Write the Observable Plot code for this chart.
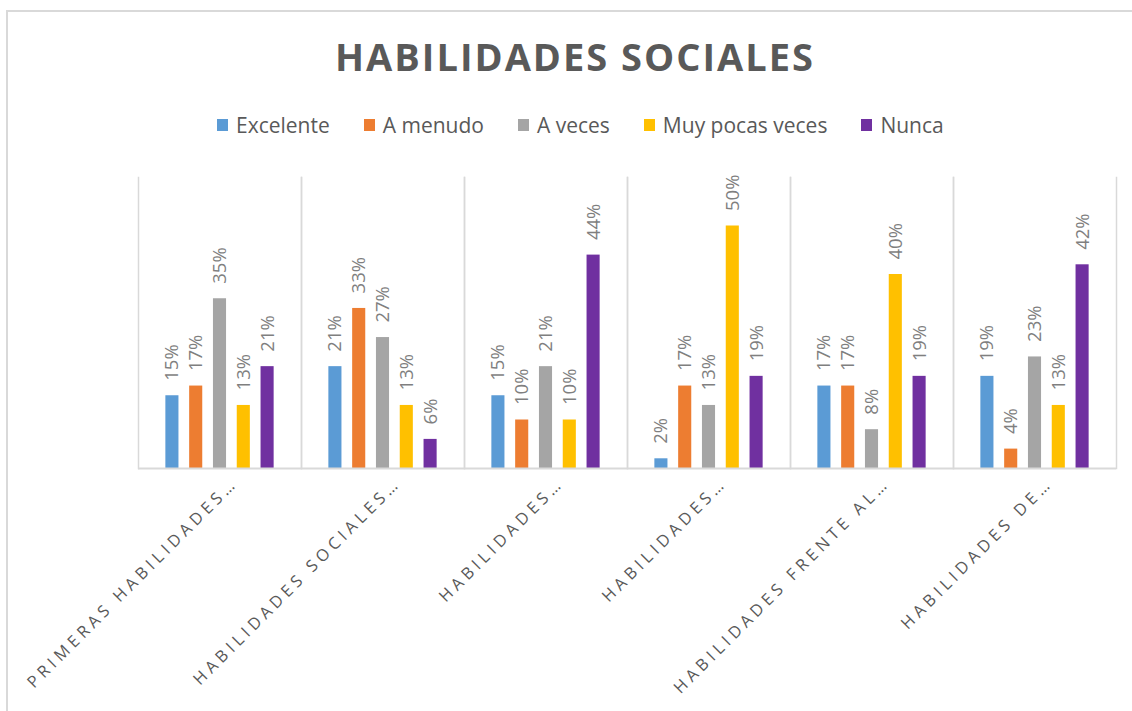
<!DOCTYPE html>
<html>
<head>
<meta charset="utf-8">
<script src="https://cdn.jsdelivr.net/npm/d3@7"></script>
<script src="https://cdn.jsdelivr.net/npm/@observablehq/plot@0.6"></script>
<style>
  html, body { margin: 0; padding: 0; background: #fff; }
  #wrap { position: relative; width: 1132px; height: 711px; overflow: hidden; background: #fff; font-family: "Open Sans", sans-serif; }
  #border { position: absolute; left: 6px; top: 10px; width: 1200px; height: 800px; border-left: 2px solid #d9d9d9; border-top: 2px solid #d9d9d9; box-sizing: border-box; }
  #title { position: absolute; left: 0; top: 37px; width: 1150px; text-align: center; font-size: 38px; line-height: 38px; font-weight: 700; color: #595959; letter-spacing: 2px; }
  #legend { position: absolute; left: 217px; top: 115px; height: 20px; display: flex; align-items: center; font-size: 21px; line-height: 20px; color: #595959; }
  .item { display: flex; align-items: center; margin-right: 34px; }
  .sw { width: 11px; height: 12px; margin-right: 8px; }
  #chart { position: absolute; left: 0; top: 0; }
  #chart svg { background: transparent; }
</style>
</head>
<body>
<div id="wrap">
  <div id="border"></div>
  <div id="chart"></div>
  <div id="title">HABILIDADES SOCIALES</div>
  <div id="legend"></div>
</div>
<script>
const categories = [
  "Primeras habilidades sociales",
  "Habilidades sociales avanzadas",
  "Habilidades relacionadas con los sentimientos",
  "Habilidades alternativas a la agresión",
  "Habilidades frente al estrés",
  "Habilidades de planificación"
];
const tickLabels = [
  "PRIMERAS HABILIDADES…",
  "HABILIDADES SOCIALES…",
  "HABILIDADES…",
  "HABILIDADES…",
  "HABILIDADES FRENTE AL…",
  "HABILIDADES DE…"
];
const series = ["Excelente", "A menudo", "A veces", "Muy pocas veces", "Nunca"];
const excelente = [15, 21, 15, 2, 17, 19];
const aMenudo = [17, 33, 10, 17, 17, 4];
const aVeces = [35, 27, 21, 13, 8, 23];
const muyPocasVeces = [13, 13, 10, 50, 40, 13];
const nunca = [21, 6, 44, 19, 19, 42];
const colors = ["#5B9BD5", "#ED7D31", "#A5A5A5", "#FFC000", "#7030A0"];

const seriesValues = [excelente, aMenudo, aVeces, muyPocasVeces, nunca];
const data = [];
categories.forEach((c, i) => {
  series.forEach((s, j) => {
    data.push({category: c, series: s, value: seriesValues[j][i]});
  });
});

// legend
const legend = document.getElementById("legend");
series.forEach((s, j) => {
  const item = document.createElement("div");
  item.className = "item";
  const sw = document.createElement("div");
  sw.className = "sw";
  sw.style.background = colors[j];
  const t = document.createElement("span");
  t.textContent = s;
  item.appendChild(sw);
  item.appendChild(t);
  legend.appendChild(item);
});

const grid = "#d9d9d9";
const chart = Plot.plot({
  width: 1132,
  height: 711,
  marginTop: 177,
  marginBottom: 243,
  marginLeft: 137,
  marginRight: 16,
  style: {fontFamily: "Open Sans, sans-serif", background: "transparent"},
  fx: {domain: categories, padding: 0, axis: null, label: null},
  x: {domain: series, axis: null, paddingInner: 0.45, paddingOuter: 1.15, round: false},
  y: {domain: [0, 60], axis: null},
  color: {domain: series, range: colors},
  marks: [
    Plot.frame({anchor: "left", stroke: grid, strokeWidth: 1.5}),
    Plot.frame({anchor: "right", stroke: grid, strokeWidth: 1.5}),
    Plot.barY(data, {fx: "category", x: "series", y: "value", fill: "series"}),
    Plot.ruleY([0], {stroke: grid, strokeWidth: 2}),
    Plot.text(data, {
      fx: "category", x: "series", y: "value",
      text: d => d.value + "%",
      rotate: -90, textAnchor: "start", dy: -15,
      fill: "#7f7f7f", fontSize: 18.5
    }),
    Plot.axisFx({
      anchor: "bottom", tickSize: 0, tickPadding: 0, rotate: -45,
      textAnchor: "end", lineAnchor: "middle", dx: 15, dy: 12,
      fontSize: 16.5, color: "#595959", label: null,
      tickFormat: d => tickLabels[categories.indexOf(d)]
    })
  ]
});
document.getElementById("chart").appendChild(chart);
chart.querySelectorAll('[aria-label="fx-axis tick label"] text').forEach(t => {
  t.style.letterSpacing = "4.3px";
});
</script>
</body>
</html>
